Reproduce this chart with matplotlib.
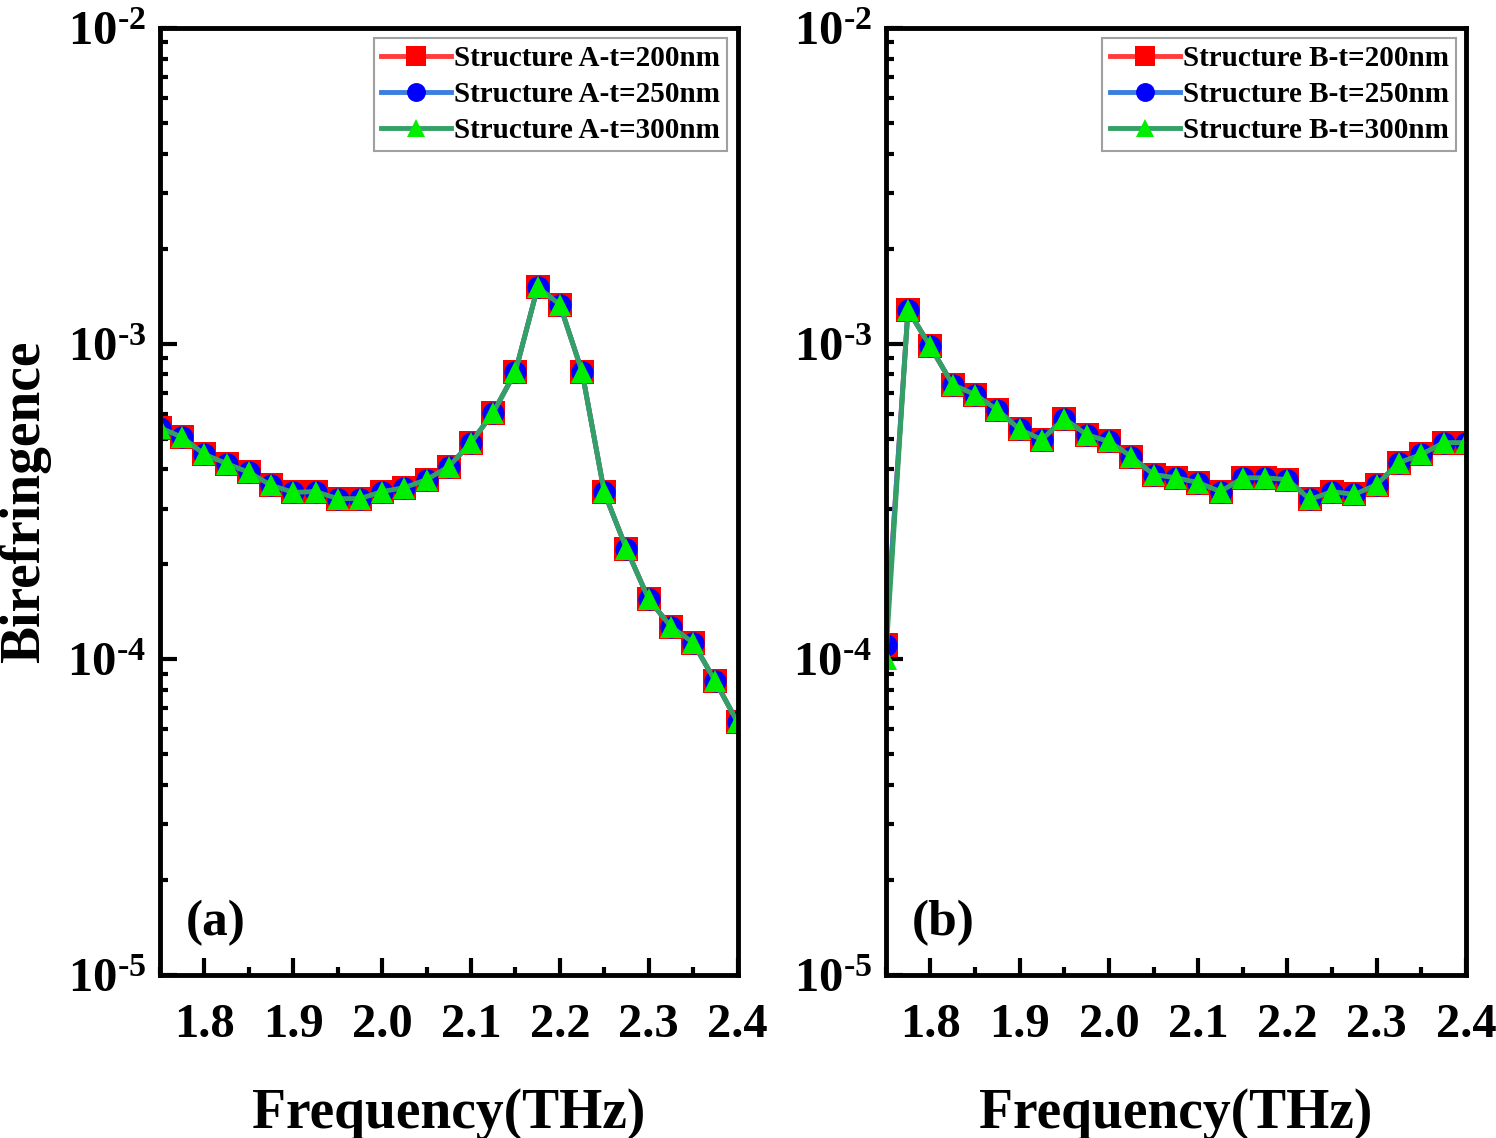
import matplotlib
matplotlib.use("Agg")
import matplotlib.pyplot as plt
import numpy as np
from matplotlib.ticker import LogLocator, FixedLocator, MultipleLocator, NullFormatter

plt.rcParams['font.family'] = ['Liberation Serif', 'DejaVu Serif']
plt.rcParams['font.weight'] = 'bold'
plt.rcParams['mathtext.fontset'] = 'custom'
plt.rcParams['mathtext.rm'] = 'Liberation Serif:bold'
plt.rcParams['mathtext.bf'] = 'Liberation Serif:bold'
plt.rcParams['mathtext.it'] = 'Liberation Serif:bold'

freq = [1.75, 1.775, 1.80, 1.825, 1.85, 1.875, 1.90, 1.925, 1.95, 1.975,
        2.00, 2.025, 2.05, 2.075, 2.10, 2.125, 2.15, 2.175, 2.20, 2.225,
        2.25, 2.275, 2.30, 2.325, 2.35, 2.375, 2.40]

biref_A = [5.42e-4, 5.05e-4, 4.46e-4, 4.17e-4, 3.91e-4, 3.56e-4, 3.38e-4, 3.40e-4, 3.23e-4, 3.23e-4,
           3.40e-4, 3.50e-4, 3.71e-4, 4.08e-4, 4.86e-4, 6.05e-4, 8.15e-4, 1.51e-3, 1.33e-3, 8.15e-4,
           3.38e-4, 2.24e-4, 1.55e-4, 1.27e-4, 1.13e-4, 8.52e-5, 6.32e-5]
biref_A_200 = biref_A
biref_A_250 = biref_A
biref_A_300 = biref_A

biref_B = [1.11e-4, 1.28e-3, 9.80e-4, 7.42e-4, 6.90e-4, 6.18e-4, 5.35e-4, 4.97e-4, 5.79e-4, 5.15e-4,
           4.90e-4, 4.39e-4, 3.85e-4, 3.76e-4, 3.63e-4, 3.40e-4, 3.76e-4, 3.76e-4, 3.71e-4, 3.21e-4,
           3.40e-4, 3.33e-4, 3.58e-4, 4.20e-4, 4.46e-4, 4.86e-4, 4.86e-4]
biref_B_200 = biref_B
biref_B_250 = biref_B
biref_B_300 = [1.0e-4] + biref_B[1:]

labels_A = ["Structure A-t=200nm", "Structure A-t=250nm", "Structure A-t=300nm"]
labels_B = ["Structure B-t=200nm", "Structure B-t=250nm", "Structure B-t=300nm"]
xticks = [1.8, 1.9, 2.0, 2.1, 2.2, 2.3, 2.4]
xtick_labels = ["1.8", "1.9", "2.0", "2.1", "2.2", "2.3", "2.4"]
yticks = [1e-5, 1e-4, 1e-3, 1e-2]
ytick_labels = [r"$10^{\text{-}5}$", r"$10^{\text{-}4}$", r"$10^{\text{-}3}$", r"$10^{\text{-}2}$"]

line_colors = ["#ff3b3b", "#3a7fe0", "#33a066"]
marker_colors = ["#ff0000", "#0000ff", "#00ee00"]
markers = ["s", "o", "^"]
msizes = [17, 16, 16]

fig = plt.figure(figsize=(14.96, 11.38), dpi=100)
axA = fig.add_axes([0.107, 0.1432, 0.386, 0.8322])
axB = fig.add_axes([0.592, 0.1432, 0.388, 0.8322])

def draw(ax, series, labels, tag):
    for i, (ys, lab) in enumerate(zip(series, labels)):
        ax.plot(freq, ys, color=line_colors[i], lw=3.5, marker=markers[i],
                markersize=msizes[i], markerfacecolor=marker_colors[i],
                markeredgecolor=marker_colors[i], markeredgewidth=0, label=lab)
    ax.set_yscale('log')
    ax.set_xlim(1.75, 2.4)
    ax.set_ylim(1e-5, 1e-2)
    ax.xaxis.set_major_locator(FixedLocator(xticks))
    ax.set_xticklabels(xtick_labels)
    ax.xaxis.set_minor_locator(MultipleLocator(0.05))
    ax.yaxis.set_major_locator(FixedLocator(yticks))
    ax.set_yticklabels(ytick_labels)
    ax.yaxis.set_minor_locator(LogLocator(base=10, subs=np.arange(2, 10)))
    ax.yaxis.set_minor_formatter(NullFormatter())
    ax.tick_params(which='both', direction='in', top=False, right=False, width=3)
    ax.tick_params(axis='x', which='major', length=12, labelsize=35, pad=20)
    ax.tick_params(axis='y', which='major', length=12, labelsize=35, pad=10)
    ax.tick_params(which='minor', length=6)
    for s in ax.spines.values():
        s.set_linewidth(3.5)
    ax.set_xlabel("Frequency(THz)", fontsize=40, fontweight='bold', labelpad=30)
    ax.text(0.045, 0.03, tag, transform=ax.transAxes, fontsize=37, fontweight='bold',
            ha='left', va='bottom')
    leg = ax.legend(loc='upper right', fontsize=21, frameon=True, fancybox=False,
                    borderaxespad=0.35, handlelength=2.4, handletextpad=0.1,
                    labelspacing=0.3, borderpad=0.25, markerscale=0.85)
    leg.get_frame().set_edgecolor('#888888')
    leg.get_frame().set_linewidth(1.5)

draw(axA, [biref_A_200, biref_A_250, biref_A_300], labels_A, "(a)")
draw(axB, [biref_B_200, biref_B_250, biref_B_300], labels_B, "(b)")
axA.set_ylabel("Birefringence", fontsize=40, fontweight='bold', labelpad=12)

fig.savefig("out.png", dpi=100)
